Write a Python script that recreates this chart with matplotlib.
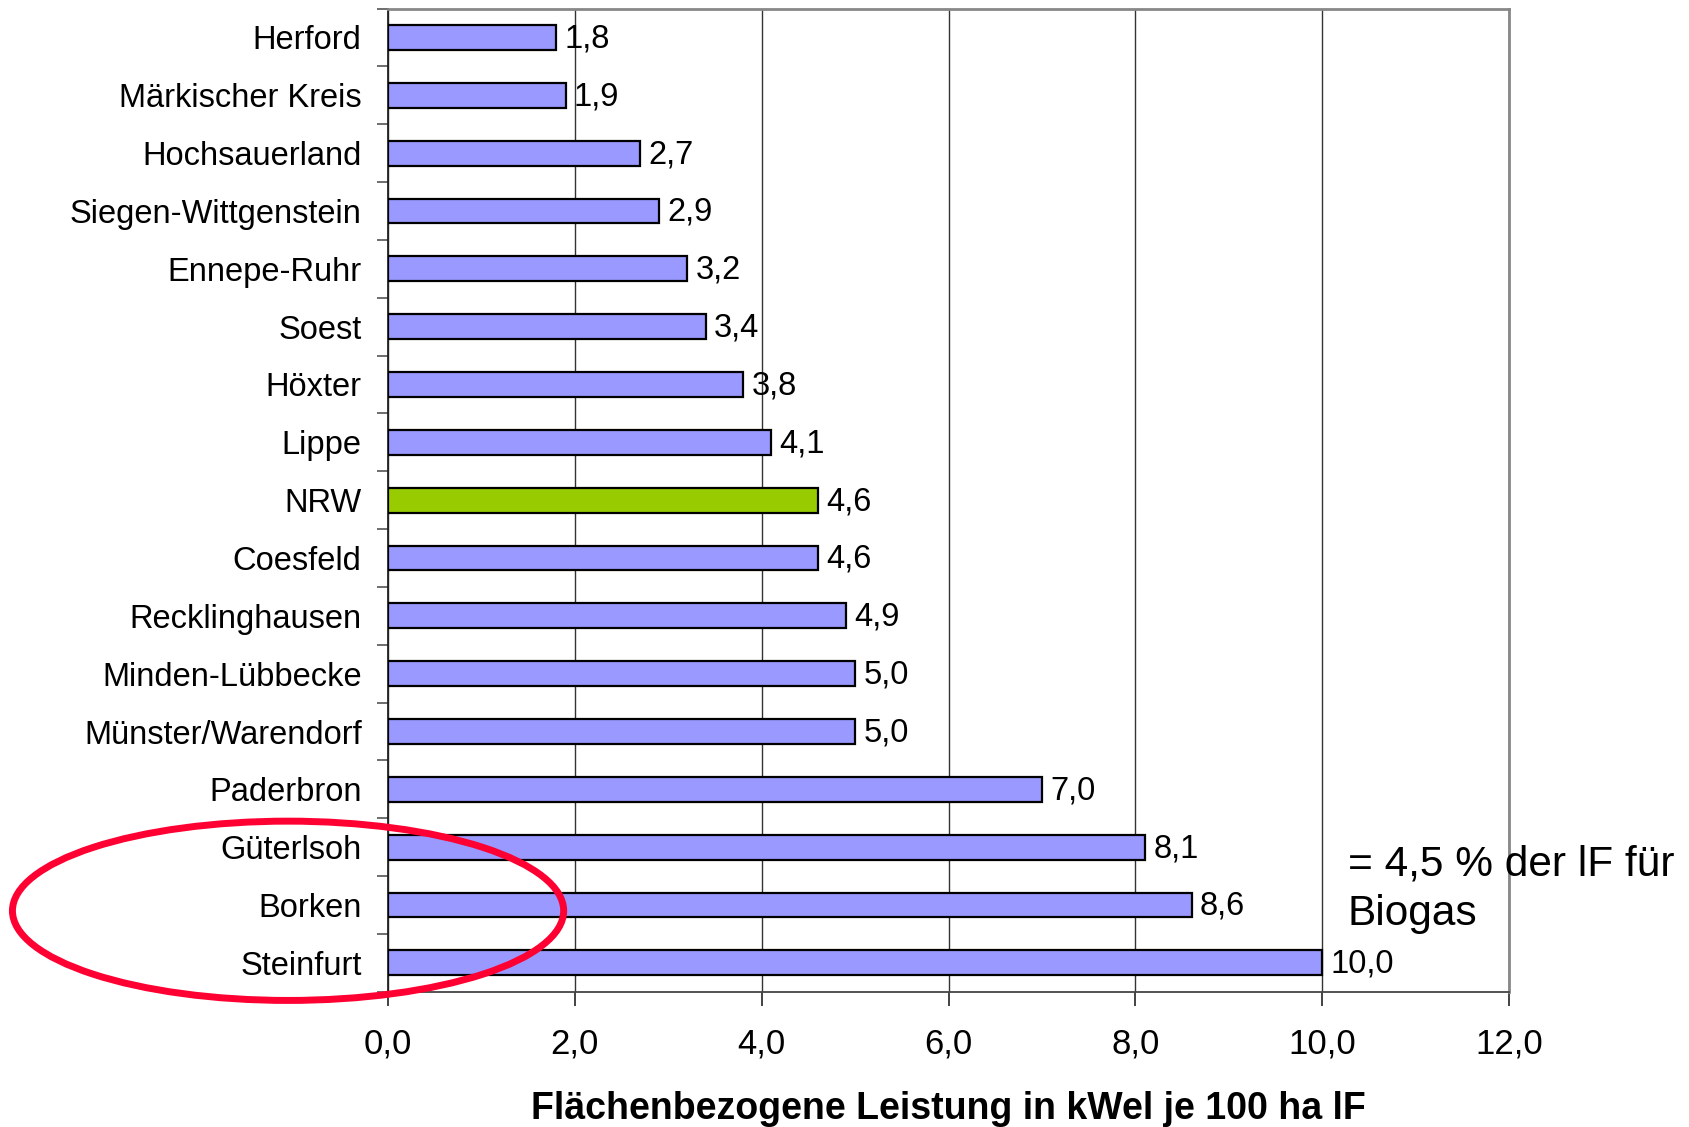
import numpy as np
import matplotlib
matplotlib.use("Agg")
import matplotlib.pyplot as plt
from matplotlib.patches import Ellipse

plt.rcParams["font.family"] = ["Liberation Sans", "DejaVu Sans"]

# Kreise in NRW, von oben nach unten
kreise = ["Herford", "Märkischer Kreis", "Hochsauerland", "Siegen-Wittgenstein",
          "Ennepe-Ruhr", "Soest", "Höxter", "Lippe", "NRW", "Coesfeld",
          "Recklinghausen", "Minden-Lübbecke", "Münster/Warendorf", "Paderbron",
          "Güterlsoh", "Borken", "Steinfurt"]
leistung = [1.8, 1.9, 2.7, 2.9, 3.2, 3.4, 3.8, 4.1, 4.6, 4.6,
            4.9, 5.0, 5.0, 7.0, 8.1, 8.6, 10.0]
x_ticks = [0, 2, 4, 6, 8, 10, 12]
highlight = ["Güterlsoh", "Borken", "Steinfurt"]

fig = plt.figure(figsize=(16.9, 11.27), dpi=100)
ax = fig.add_axes([0.2296, 0.120, 0.8930 - 0.2296, 0.9924 - 0.120])

y = np.arange(len(kreise))
colors = ["#99CC00" if k == "NRW" else "#9999FF" for k in kreise]
ax.barh(y, leistung, height=0.43, color=colors, edgecolor="black", linewidth=1.6, zorder=3)

for yi, v in zip(y, leistung):
    ax.annotate(f"{v:.1f}".replace(".", ","), (v, yi), xytext=(6, -1),
                textcoords="offset points", va="center", ha="left", fontsize=23.5, zorder=4)

ax.set_xlim(0, 12)
ax.set_ylim(len(kreise) - 0.5, -0.5)
ax.set_xticks(x_ticks)
ax.set_xticklabels([f"{t:.1f}".replace(".", ",") for t in x_ticks], fontsize=25)
ax.set_yticks(y)
ax.set_yticklabels(kreise, fontsize=23.5)
ax.set_yticks(np.arange(-0.5, len(kreise), 1), minor=True)
ax.tick_params(axis="y", which="major", length=0, pad=19)
ax.tick_params(axis="y", which="minor", length=8, width=1.2, color="#555555", direction="out")
ax.tick_params(axis="x", which="major", length=10, width=1.2, color="#222222", pad=16)

ax.grid(axis="x", color="#333333", linewidth=1.0, zorder=0)
ax.set_axisbelow(True)
for s in ["top", "right"]:
    ax.spines[s].set_color("#888888")
    ax.spines[s].set_linewidth(2)
ax.spines["left"].set_color("#222222")
ax.spines["left"].set_linewidth(1.3)
ax.spines["bottom"].set_color("#444444")
ax.spines["bottom"].set_linewidth(1.3)

ax.set_xlabel("Flächenbezogene Leistung in kWel je 100 ha lF", fontsize=27,
              fontweight="bold", labelpad=22)

ax.text(10.27, 14.73, "= 4,5 % der lF für\nBiogas", fontsize=30.5, va="center",
        ha="left", linespacing=1.3, zorder=5)

# roter Kreis um die Spitzenreiter
idx = [kreise.index(k) for k in highlight]
ell = Ellipse((-1.07, np.mean(idx) + 0.1), width=5.9, height=3.1, fill=False,
              edgecolor="#FF0033", linewidth=5, clip_on=False, zorder=6)
ax.add_patch(ell)

fig.savefig("out.png", dpi=100)
